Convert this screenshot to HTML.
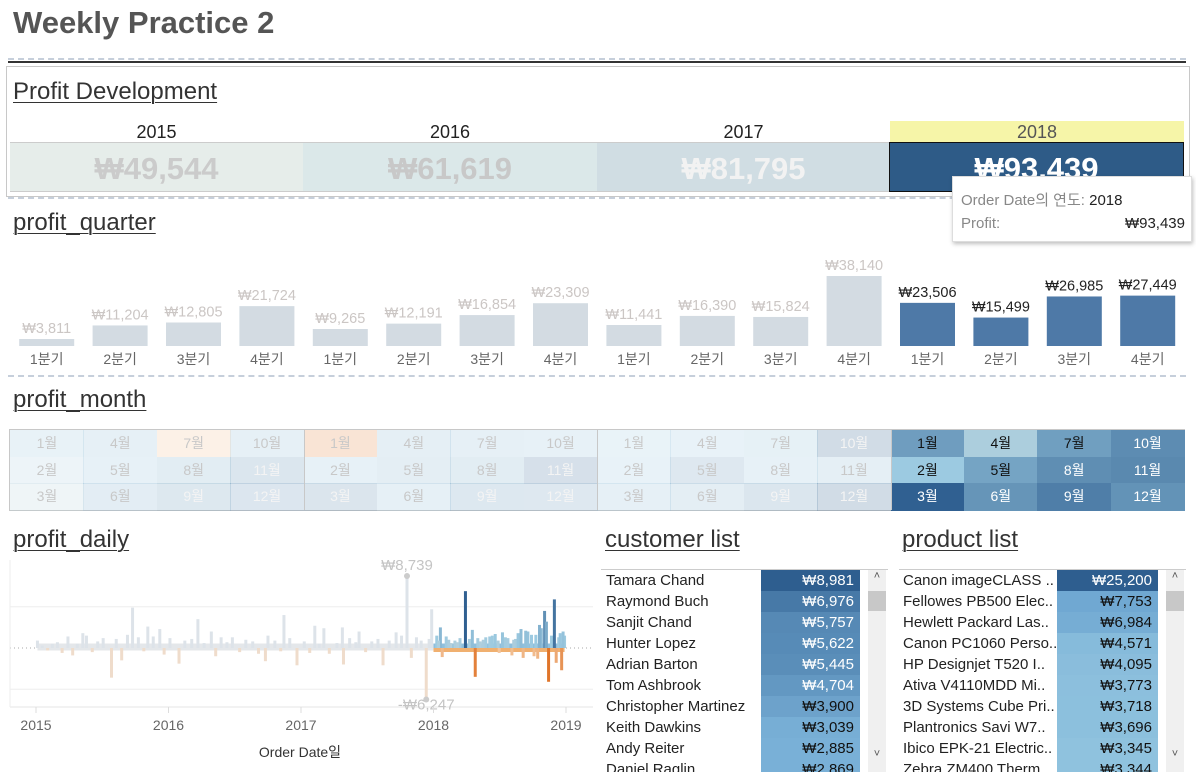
<!DOCTYPE html>
<html><head><meta charset="utf-8">
<style>
*{margin:0;padding:0;box-sizing:border-box}
body{width:1196px;height:772px;background:#fff;font-family:"Liberation Sans","Noto Sans CJK KR",sans-serif;position:relative;overflow:hidden;color:#333}
.abs{position:absolute}
.h2{position:absolute;font-size:24px;color:#333;text-decoration:underline;text-decoration-thickness:1px;text-underline-offset:3px;white-space:nowrap}
.dash{position:absolute;height:0;border-top:2px dashed #c6cfdb}
.yr{position:absolute;top:121px;height:21px;text-align:center;font-size:18px;color:#222;line-height:22px}
.cell{position:absolute;top:142px;height:50px;text-align:center;font-size:31px;font-weight:bold;line-height:52px}
.row{position:absolute;height:21px;font-size:15px;line-height:21px;white-space:nowrap;overflow:hidden}
.sb{position:absolute;background:#f0f0f0;width:18px}
</style></head><body>
<div class="abs" style="left:13px;top:5px;font-size:31px;font-weight:bold;color:#555">Weekly Practice 2</div>
<div class="dash" style="left:8px;top:58px;width:1178px"></div>
<div class="abs" style="left:8px;top:61px;width:1178px;height:2px;background:#333"></div>

<div class="abs" style="left:6px;top:66px;width:1184px;height:131px;border:1px solid #c8c8c8"></div>
<div class="h2" style="left:13px;top:78px">Profit Development</div>
<div class="yr" style="left:10px;width:293px">2015</div>
<div class="yr" style="left:303px;width:294px">2016</div>
<div class="yr" style="left:597px;width:293px">2017</div>
<div class="yr" style="left:890px;width:294px;background:#f6f5a8;color:#555">2018</div>
<div class="cell" style="left:10px;width:293px;background:#e6edea;color:#cbcbcb;border-top:1px solid #ccc;border-bottom:1px solid #ccc">₩49,544</div>
<div class="cell" style="left:303px;width:294px;background:#dbe8e9;color:#c8c8c8;border-top:1px solid #ccc;border-bottom:1px solid #ccc">₩61,619</div>
<div class="cell" style="left:597px;width:293px;background:#d0dde3;color:#f2f2f2;border-top:1px solid #ccc;border-bottom:1px solid #ccc">₩81,795</div>
<div class="cell" style="left:889px;width:295px;background:#2e5b87;color:#fff;border:1px solid #111">₩93,439</div>
<div class="dash" style="left:8px;top:197px;width:1178px"></div>

<div class="h2" style="left:13px;top:209px">profit_quarter</div>
<svg class="abs" id="qsvg" style="left:0;top:250px" width="1196" height="125"></svg>
<div class="dash" style="left:8px;top:375px;width:1178px"></div>

<div class="h2" style="left:13px;top:386px">profit_month</div>
<div class="abs" id="heat" style="left:9px;top:429px;width:1176px;height:82px;border:1px solid #c8c8c8"></div>

<div class="h2" style="left:13px;top:526px">profit_daily</div>
<svg class="abs" id="dsvg" style="left:0;top:560px" width="598" height="212"></svg>

<div class="h2" style="left:605px;top:526px">customer list</div>
<div class="abs" style="left:601px;top:569px;width:287px;height:1px;background:#ccc"></div>
<div class="abs" id="clist" style="left:602px;top:570px;width:260px;height:202px;overflow:hidden"></div>
<div class="sb" style="left:868px;top:570px;height:202px"><div style="position:absolute;top:0;width:18px;text-align:center;font-size:11px;color:#555">˄</div><div style="position:absolute;top:21px;width:18px;height:20px;background:#c8c8c8"></div><div style="position:absolute;top:178px;width:18px;text-align:center;font-size:11px;color:#555">˅</div></div>

<div class="h2" style="left:902px;top:526px">product list</div>
<div class="abs" style="left:899px;top:569px;width:287px;height:1px;background:#ccc"></div>
<div class="abs" id="plist" style="left:899px;top:570px;width:261px;height:202px;overflow:hidden"></div>
<div class="sb" style="left:1166px;top:570px;height:202px"><div style="position:absolute;top:0;width:18px;text-align:center;font-size:11px;color:#555">˄</div><div style="position:absolute;top:21px;width:18px;height:20px;background:#c8c8c8"></div><div style="position:absolute;top:178px;width:18px;text-align:center;font-size:11px;color:#555">˅</div></div>

<div class="abs" style="left:952px;top:176px;width:240px;height:66px;background:#fff;border:1px solid #ddd;box-shadow:1px 2px 4px rgba(0,0,0,.25);font-size:15px;color:#888">
<div style="position:absolute;left:8px;top:12px">Order Date의 연도: <span style="color:#222">2018</span></div>
<div style="position:absolute;left:8px;top:38px">Profit:</div>
<div style="position:absolute;right:6px;top:38px;color:#222">₩93,439</div>
</div>

<script>
// ---------- quarter data ----------
const qYears = [2015,2015,2015,2015,2016,2016,2016,2016,2017,2017,2017,2017,2018,2018,2018,2018];
const qLabels = ["1분기","2분기","3분기","4분기","1분기","2분기","3분기","4분기","1분기","2분기","3분기","4분기","1분기","2분기","3분기","4분기"];
const qValues = [3811,11204,12805,21724,9265,12191,16854,23309,11441,16390,15824,38140,23506,15499,26985,27449];

// ---------- month data ----------
const mYears = [2015,2016,2017,2018];
const mValues = [
 [2450,862,499,3489,2739,4976,-841,5318,8328,3448,9292,8983],
 [-3281,2813,9732,4187,4668,3335,3288,5355,8210,2817,12474,8017],
 [2000,2254,3708,2137,7845,4714,3177,2839,9328,16243,4011,17885],
 [7140,1613,14751,933,6342,8223,6952,9040,10991,9275,9690,8483]
];

// ---------- daily data ----------
const dDates = ["2015-01-05","2015-01-18","2015-02-02","2015-02-15","2015-03-01","2015-03-14","2015-03-30","2015-04-12","2015-04-25","2015-05-10","2015-05-20","2015-06-05","2015-06-20","2015-07-05","2015-07-28","2015-08-10","2015-08-25","2015-09-10","2015-09-24","2015-10-10","2015-10-25","2015-11-05","2015-11-20","2015-12-08","2015-12-20",
"2016-01-05","2016-01-30","2016-02-15","2016-03-05","2016-03-22","2016-04-08","2016-04-28","2016-05-10","2016-05-25","2016-06-10","2016-06-25","2016-07-15","2016-08-01","2016-08-20","2016-09-05","2016-09-24","2016-10-01","2016-10-20","2016-11-05","2016-11-14","2016-11-30","2016-12-20",
"2017-01-10","2017-01-25","2017-02-08","2017-02-20","2017-03-05","2017-03-20","2017-04-10","2017-04-25","2017-04-28","2017-05-15","2017-06-01","2017-06-10","2017-06-28","2017-07-15","2017-08-01","2017-08-15","2017-09-01","2017-09-20","2017-10-05","2017-10-20","2017-11-01","2017-11-15","2017-11-28","2017-12-12","2017-12-20","2017-12-27",
"2018-01-10","2018-01-20","2018-01-25","2018-02-05","2018-02-18","2018-03-01","2018-03-15","2018-03-30","2018-04-10","2018-04-18","2018-04-26","2018-05-10","2018-05-25","2018-06-05","2018-06-20","2018-07-01","2018-07-10","2018-07-25","2018-08-05","2018-08-15","2018-08-30","2018-09-05","2018-09-18","2018-09-28","2018-10-05","2018-10-15","2018-10-25","2018-11-03","2018-11-14","2018-11-22","2018-11-30","2018-12-05","2018-12-12","2018-12-20","2018-12-28",
"2018-01-15","2018-02-12","2018-03-08","2018-05-03","2018-05-18","2018-06-12","2018-06-28","2018-07-18","2018-08-10","2018-08-22","2018-09-12","2018-10-10","2018-10-20","2018-11-08","2018-12-16","2018-12-24"];
const dValues = [900,300,-300,500,700,-600,1400,-900,500,1800,1500,-500,800,1200,-3600,1100,-1500,1600,4900,1300,-400,2600,1400,2300,-800,
1200,-1900,900,1100,3500,600,2000,-1000,1300,700,1300,-500,1000,800,-700,-1600,1500,900,-400,4000,1200,-2100,
800,-600,2700,500,2400,-700,600,2500,-2000,1200,700,2000,-500,800,1100,-2100,900,1900,1500,8739,-1200,1300,900,-6247,1100,4700,
1500,2500,-1100,1400,600,900,1200,6900,1100,2200,-3500,800,1300,1400,1700,-600,1900,1200,-900,1100,2300,-1200,2000,1600,-1000,-1300,2400,4500,-4100,1500,5900,-1800,1300,-2700,1500,
900,1000,700,1200,1000,1500,900,1300,1000,1800,2100,1600,2800,3200,1800,2000];
const dTicks = [2015,2016,2017,2018,2019];

// ---------- lists ----------
const custNames = ["Tamara Chand","Raymond Buch","Sanjit Chand","Hunter Lopez","Adrian Barton","Tom Ashbrook","Christopher Martinez","Keith Dawkins","Andy Reiter","Daniel Raglin"];
const custValues = [8981,6976,5757,5622,5445,4704,3900,3039,2885,2869];
const prodNames = ["Canon imageCLASS ..","Fellowes PB500 Elec..","Hewlett Packard Las..","Canon PC1060 Perso..","HP Designjet T520 I..","Ativa V4110MDD Mi..","3D Systems Cube Pri..","Plantronics Savi W7..","Ibico EPK-21 Electric..","Zebra ZM400 Therm.."];
const prodValues = [25200,7753,6984,4571,4095,3773,3718,3696,3345,3344];

const NS="http://www.w3.org/2000/svg";
function mk(tag,attrs,parent){const e=document.createElementNS(NS,tag);for(const k in attrs)e.setAttribute(k,attrs[k]);parent.appendChild(e);return e;}
function fmt(v){return (v<0?"-":"")+"₩"+Math.abs(v).toLocaleString("en-US");}
function lerp(a,b,t){t=Math.max(0,Math.min(1,t));const pa=[1,3,5].map(i=>parseInt(a.substr(i,2),16)),pb=[1,3,5].map(i=>parseInt(b.substr(i,2),16));return "rgb("+pa.map((x,i)=>Math.round(x+(pb[i]-x)*t)).join(",")+")";}
function blueScale(v,max){ if(v<0) return lerp("#f6d2ae","#e0752a",-v/4000); if(v<1600) return lerp("#c3d3d8","#9ccae1",v/1600); return lerp("#9ccae1","#2e5e8f",(v-1600)/(max-1600)); }

// ---------- quarter chart ----------
(function(){
 const svg=document.getElementById("qsvg");
 const x0=10,colW=73.4,bw=55,base=96,k=70/38140;
 qValues.forEach((v,i)=>{
  const active=qYears[i]===2018;
  const cx=x0+colW*i+colW/2, h=v*k;
  const r=mk("rect",{x:cx-bw/2,y:base-h,width:bw,height:h,fill:active?"#4e79a7":"#d3dbe2"},svg);
  
  
  const t=mk("text",{x:cx,y:base-h-6,"text-anchor":"middle","font-size":"14.5",fill:active?"#222":"#cbc6c4","font-family":"Liberation Sans"},svg);
  t.textContent=fmt(v);
  
  
  const l=mk("text",{x:cx,y:base+18,"text-anchor":"middle","font-size":"14",fill:"#666","font-family":"Liberation Sans, Noto Sans CJK KR, sans-serif"},svg);
  l.textContent=qLabels[i];
  
  
 });
})();

// ---------- month heatmap ----------
(function(){
 const box=document.getElementById("heat");
 const gw=293.5,cw=gw/4,rh=26.7;
 mYears.forEach((y,gi)=>{
  const active=y===2018;
  for(let m=0;m<12;m++){
   const col=Math.floor(m/3),row=m%3,v=mValues[gi][m];
   const d=document.createElement("div");
   
   
   const c=blueScale(v,15000);
   d.style.cssText="position:absolute;left:"+(gi*gw+col*cw)+"px;top:"+(row*rh)+"px;width:"+(cw+0.5)+"px;height:"+(rh+0.5)+"px;text-align:center;font-size:14px;line-height:"+rh+"px;";
   const bg=document.createElement("div");
   bg.style.cssText="position:absolute;inset:0;background:"+c+";opacity:"+(active?1:0.22);
   d.appendChild(bg);
   const t=document.createElement("span");
   t.style.cssText="position:relative;color:"+(active?(v>9000||m===2||m===5||m===11||m===7?"#fff":"#111"):(v>8000?"#f4f4f4":"#c8c8c8"));
   t.textContent=(m+1)+"월";
   d.appendChild(t);
   box.appendChild(d);
  }
  if(gi>0){const s=document.createElement("div");s.style.cssText="position:absolute;left:"+(gi*gw)+"px;top:0;width:1px;height:80px;background:#c8c8c8";box.appendChild(s);}
 });
})();

// ---------- daily chart ----------
(function(){
 const svg=document.getElementById("dsvg");
 const xOf=t=>36+(t-2015)*132.5;
 const base=88,k=72/8739;
 const yOf=v=>base-v*k;
 function dec(s){const d=new Date(s+"T00:00:00Z");const y=d.getUTCFullYear();return y+(d-Date.UTC(y,0,1))/(365*864e5);}
 mk("line",{x1:10,x2:593,y1:yOf(5000),y2:yOf(5000),stroke:"#eee"},svg);
 mk("line",{x1:10,x2:593,y1:yOf(-5000),y2:yOf(-5000),stroke:"#eee"},svg);
 mk("line",{x1:10,x2:593,y1:base,y2:base,stroke:"#aaa","stroke-dasharray":"1,3"},svg);
 mk("line",{x1:10,x2:593,y1:147,y2:147,stroke:"#e4e4e4"},svg);
 mk("line",{x1:10,x2:10,y1:0,y2:147,stroke:"#eee"},svg);
 const ts=dDates.map(dec);
 const tMin=Math.min(...ts),tMax=Math.max(...ts);
 mk("line",{x1:xOf(tMin),x2:xOf(2018),y1:base-1,y2:base-1,stroke:"#e4e7ea","stroke-width":7},svg);
 mk("line",{x1:xOf(2018),x2:xOf(tMax),y1:base-2,y2:base-2,stroke:"#8fbfdc","stroke-width":5},svg);
 mk("line",{x1:xOf(2018),x2:xOf(tMax),y1:base+2,y2:base+2,stroke:"#f0b070","stroke-width":4},svg);
 dValues.forEach((v,i)=>{
  const t=ts[i],active=t>=2018;
  let c;
  if(active) c=blueScale(v,7000); else c=v>=0?"#dde3e9":"#efdccb";
  const l=mk("line",{x1:xOf(t),x2:xOf(t),y1:base,y2:yOf(v),stroke:c,"stroke-width":3},svg);
  
  
 });
 let iMax=0,iMin=0;dValues.forEach((v,i)=>{if(v>dValues[iMax])iMax=i;if(v<dValues[iMin])iMin=i;});
 [[iMax,-6],[iMin,10]].forEach(([i,dy])=>{
  mk("circle",{cx:xOf(ts[i]),cy:yOf(dValues[i]),r:3,fill:"#ccc"},svg);
  const t=mk("text",{x:xOf(ts[i]),y:yOf(dValues[i])+dy,"text-anchor":"middle","font-size":"15",fill:"#c4c4c4","font-family":"Liberation Sans"},svg);
  t.textContent=fmt(dValues[i]);
  
  
 });
 dTicks.forEach(y=>{
  const t=mk("text",{x:xOf(y),y:170,"text-anchor":"middle","font-size":"14",fill:"#666","font-family":"Liberation Sans"},svg);
  t.textContent=y;
  
  
  mk("line",{x1:xOf(y),x2:xOf(y),y1:147,y2:153,stroke:"#ddd"},svg);
 });
 const xt=mk("text",{x:300,y:197,"text-anchor":"middle","font-size":"14",fill:"#333","font-family":"Liberation Sans, Noto Sans CJK KR, sans-serif"},svg);
 xt.textContent="Order Date일";
 
 
})();

// ---------- lists ----------
function buildList(id,names,vals,nameW,valW,colorFn,white){
 const box=document.getElementById(id);
 names.forEach((n,i)=>{
  const r=document.createElement("div");
  
  
  r.className="row";
  r.style.cssText+="top:"+(i*21)+"px;left:0;width:"+(nameW+valW)+"px";
  const a=document.createElement("div");
  a.style.cssText="position:absolute;left:4px;top:0;width:"+(nameW-4)+"px;color:#222";
  a.textContent=n;
  const b=document.createElement("div");
  b.style.cssText="position:absolute;left:"+nameW+"px;top:0;width:"+valW+"px;background:"+colorFn(vals[i])+";text-align:right;padding-right:6px;color:"+(white(vals[i])?"#fff":"#111");
  b.textContent=fmt(vals[i]);
  r.appendChild(a);r.appendChild(b);box.appendChild(r);
 });
}
buildList("clist",custNames,custValues,159,99,v=>lerp("#7ab1d8","#2e5e8f",(v-2800)/6200),v=>v>4500);
buildList("plist",prodNames,prodValues,158,101,v=>v>20000?"#2e5e8f":lerp("#8fc2de","#70a8d2",(v-3300)/4500),v=>v>20000);
</script>
</body></html>
